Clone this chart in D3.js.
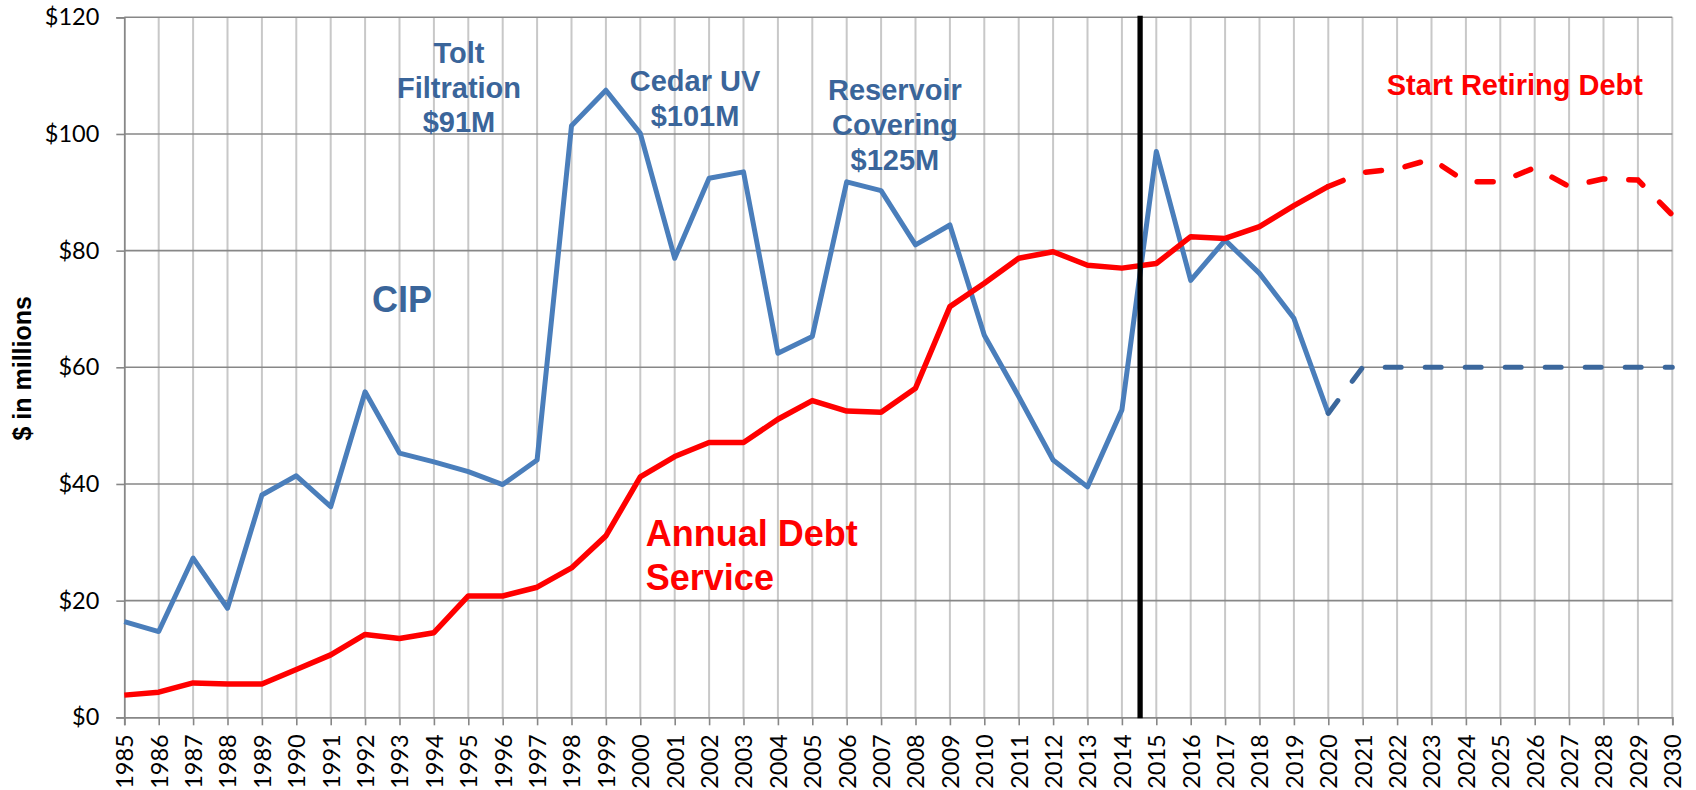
<!DOCTYPE html>
<html>
<head>
<meta charset="utf-8">
<script src="https://cdn.jsdelivr.net/npm/d3@7"></script>
<style>
  html, body { margin: 0; padding: 0; background: #fff; }
  svg { display: block; }
</style>
</head>
<body>
<svg id="chart" width="1696" height="790"></svg>
<script>
// ---------- DATA ----------
const years = d3.range(1985, 2031);               // x categories 1985..2030
const actualYears = d3.range(1985, 2021);         // 1985..2020
const projYears = d3.range(2020, 2031);           // 2020..2030
const yTicks = [0, 20, 40, 60, 80, 100, 120];

const cipActual = [16.4, 14.7, 27.3, 18.7, 38.1, 41.4, 36.1, 55.8, 45.3, 43.8,
                   42.1, 39.9, 44.1, 101.4, 107.5, 100.1, 78.7, 92.4, 93.5, 62.4,
                   65.3, 91.8, 90.3, 81.0, 84.4, 65.5, 55.0, 44.1, 39.5, 52.7,
                   97.0, 74.9, 81.8, 76.1, 68.4, 52.1];
const cipProjected = [52.1, 60, 60, 60, 60, 60, 60, 60, 60, 60, 60];

const debtActual = [3.8, 4.3, 5.9, 5.7, 5.7, 8.2, 10.7, 14.2, 13.5, 14.5,
                    20.8, 20.8, 22.3, 25.6, 31.1, 41.2, 44.7, 47.1, 47.1, 51.1,
                    54.3, 52.5, 52.3, 56.4, 70.4, 74.4, 78.7, 79.8, 77.5, 77.0,
                    77.8, 82.4, 82.1, 84.1, 87.7, 91.0];
const debtProjected = [91.0, 93.4, 94.0, 95.7, 91.8, 91.8, 94.2, 91.0, 92.3, 92.1, 86.1];

const dividerYear = 2014.5;

const annotations = [
  { lines: ["Tolt", "Filtration", "$91M"], x: 1994.73, y: 112.2 },
  { lines: ["Cedar UV", "$101M"], x: 2001.59, y: 107.4 },
  { lines: ["Reservoir", "Covering", "$125M"], x: 2007.4, y: 105.8 }
];

// ---------- LAYOUT ----------
const svg = d3.select("#chart");
const x = d3.scaleLinear().domain([1985, 2030]).range([124.3, 1672.3]);
const y = d3.scaleLinear().domain([0, 120]).range([717.3, 17.3]);

const defs = svg.append("defs");
defs.append("filter").attr("id", "blur").attr("x", "-200%").attr("width", "500%")
  .append("feGaussianBlur").attr("stdDeviation", 2);

// vertical gridlines
svg.append("g").selectAll("line").data(years.slice(1)).join("line")
  .attr("x1", d => x(d)).attr("x2", d => x(d))
  .attr("y1", y(120)).attr("y2", y(0))
  .attr("stroke", "#c8c8c8").attr("stroke-width", 2);

// horizontal gridlines
svg.append("g").selectAll("line").data(yTicks.slice(1)).join("line")
  .attr("x1", x(1985)).attr("x2", x(2030))
  .attr("y1", d => y(d)).attr("y2", d => y(d))
  .attr("stroke", "#878787").attr("stroke-width", 1.6);

// Y axis
const yAxis = d3.axisLeft(y).tickValues(yTicks).tickSize(8).tickPadding(17)
  .tickFormat(d => "$" + d);
const gy = svg.append("g").attr("transform", `translate(${x(1985)},0)`).call(yAxis);
gy.select(".domain").attr("stroke", "#878787").attr("stroke-width", 1.8);
gy.selectAll(".tick line").attr("stroke", "#878787").attr("stroke-width", 1.6);
gy.selectAll(".tick text").attr("font-family", "Lato, 'Open Sans', sans-serif")
  .attr("font-size", 23.5).attr("fill", "#000");

// X axis
const xAxis = d3.axisBottom(x).tickValues(years).tickSize(8).tickFormat(d3.format("d"));
const gx = svg.append("g").attr("transform", `translate(0,${y(0)})`).call(xAxis);
gx.select(".domain").attr("stroke", "#878787").attr("stroke-width", 1.8);
gx.selectAll(".tick line").attr("stroke", "#878787").attr("stroke-width", 1.6);
gx.selectAll(".tick text")
  .attr("font-family", "Lato, 'Open Sans', sans-serif").attr("font-size", 23.5).attr("fill", "#000")
  .attr("text-anchor", "end").attr("transform", "rotate(-90)")
  .attr("x", -17).attr("y", 0).attr("dy", "0.36em");

// Y axis title
svg.append("text")
  .attr("transform", `translate(31,${(y(0) + y(120)) / 2 + 1}) rotate(-90)`)
  .attr("text-anchor", "middle")
  .attr("font-family", "'Liberation Sans', Arial, sans-serif").attr("font-weight", "bold")
  .attr("font-size", 25).attr("fill", "#000")
  .text("$ in millions");

// ---------- LINES ----------
const line = d3.line().x(d => x(d[0])).y(d => y(d[1]));

const blue = "#4a7ebb", blueDark = "#3b679c", red = "#ff0000";

// black divider shadow
svg.append("line")
  .attr("x1", x(dividerYear) + 3).attr("x2", x(dividerYear) + 3)
  .attr("y1", y(120) - 1).attr("y2", y(0) + 1)
  .attr("stroke", "#000").attr("stroke-opacity", 0.35).attr("stroke-width", 4)
  .attr("filter", "url(#blur)");

svg.append("path").datum(d3.zip(actualYears, cipActual))
  .attr("d", line).attr("fill", "none").attr("stroke", blue)
  .attr("stroke-width", 5).attr("stroke-linejoin", "round");

svg.append("path").datum(d3.zip(projYears, cipProjected))
  .attr("d", line).attr("fill", "none").attr("stroke", blueDark)
  .attr("stroke-width", 5).attr("stroke-linecap", "round")
  .attr("stroke-dasharray", "16,24");

svg.append("path").datum(d3.zip(actualYears, debtActual))
  .attr("d", line).attr("fill", "none").attr("stroke", red)
  .attr("stroke-width", 5.5).attr("stroke-linejoin", "round");

svg.append("path").datum(d3.zip(projYears, debtProjected))
  .attr("d", line).attr("fill", "none").attr("stroke", red)
  .attr("stroke-width", 5.5).attr("stroke-linecap", "round")
  .attr("stroke-dasharray", "16,24");

// black divider
svg.append("line")
  .attr("x1", x(dividerYear) + 1).attr("x2", x(dividerYear) + 1)
  .attr("y1", y(120) - 1.6).attr("y2", y(0) + 1)
  .attr("stroke", "#000").attr("stroke-width", 5.3);

// ---------- ANNOTATIONS ----------
const labelFont = "'Liberation Sans', Arial, sans-serif";
const annoColor = "#3a659a";

annotations.forEach(a => {
  const t = svg.append("text")
    .attr("x", x(a.x)).attr("y", y(a.y))
    .attr("text-anchor", "middle")
    .attr("font-family", labelFont).attr("font-weight", "bold")
    .attr("font-size", 29).attr("fill", annoColor);
  a.lines.forEach((l, i) => {
    t.append("tspan").attr("x", x(a.x)).attr("dy", i === 0 ? 0 : 34.7).text(l);
  });
});

svg.append("text")
  .attr("x", x(1992.2)).attr("y", y(69.5))
  .attr("font-family", labelFont).attr("font-weight", "bold")
  .attr("font-size", 36).attr("fill", annoColor).text("CIP");

const ads = svg.append("text")
  .attr("x", x(2000.16)).attr("y", y(29.3))
  .attr("font-family", labelFont).attr("font-weight", "bold")
  .attr("font-size", 36).attr("fill", red);
ads.append("tspan").attr("x", x(2000.16)).attr("dy", 0).text("Annual Debt");
ads.append("tspan").attr("x", x(2000.16)).attr("dy", 44).text("Service");

svg.append("text")
  .attr("x", x(2021.7)).attr("y", y(106.7))
  .attr("font-family", labelFont).attr("font-weight", "bold")
  .attr("font-size", 29).attr("fill", red).text("Start Retiring Debt");
</script>
</body>
</html>
